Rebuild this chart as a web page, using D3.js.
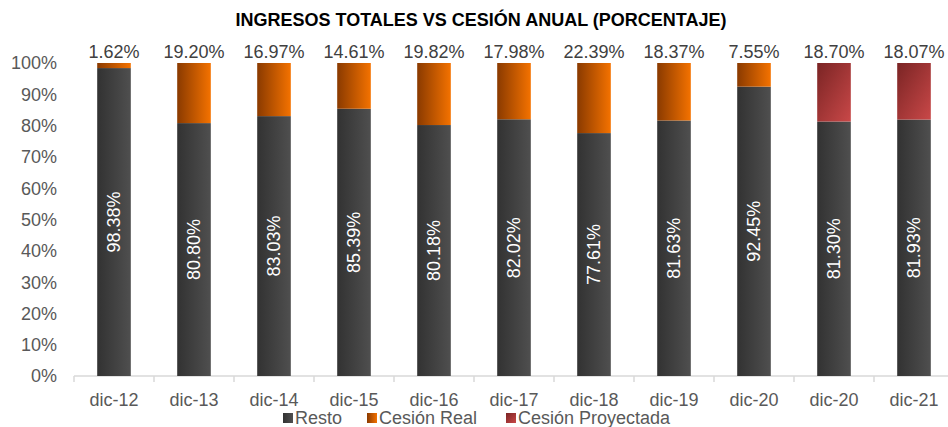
<!DOCTYPE html>
<html>
<head>
<meta charset="utf-8">
<script src="https://cdn.jsdelivr.net/npm/d3@7"></script>
<style>
  body { margin: 0; background: #fff; }
  svg { font-family: "Liberation Sans", Arial, sans-serif; }
</style>
</head>
<body>
<div id="chart"></div>
<script>
// chart data
var categories = ["dic-12", "dic-13", "dic-14", "dic-15", "dic-16", "dic-17", "dic-18", "dic-19", "dic-20", "dic-20 ", "dic-21"];
var resto = [98.38, 80.80, 83.03, 85.39, 80.18, 82.02, 77.61, 81.63, 92.45, 81.30, 81.93];
var cesion = [1.62, 19.20, 16.97, 14.61, 19.82, 17.98, 22.39, 18.37, 7.55, 18.70, 18.07];
var projected = [false, false, false, false, false, false, false, false, false, true, true];
var yTicks = [0, 10, 20, 30, 40, 50, 60, 70, 80, 90, 100];
var legendItems = ["Resto", "Cesión Real", "Cesión Proyectada"];

var width = 948, height = 427;
var margin = { top: 63, right: -6, bottom: 51, left: 74 };

var svg = d3.select("#chart").append("svg")
    .attr("width", width)
    .attr("height", height);

// gradients
var defs = svg.append("defs");
function grad(id, c1, c2, x2, y2) {
    var g = defs.append("linearGradient").attr("id", id)
        .attr("x1", "0%").attr("y1", "0%").attr("x2", x2).attr("y2", y2);
    g.append("stop").attr("offset", "0%").attr("stop-color", c1);
    g.append("stop").attr("offset", "100%").attr("stop-color", c2);
}
grad("gResto", "#323232", "#4f4f4f", "100%", "0%");
grad("gReal", "#8a3a00", "#f47200", "100%", "0%");
grad("gProy", "#7a2424", "#c94848", "100%", "100%");

var x = d3.scaleBand()
    .domain(categories)
    .range([margin.left, width - margin.right])
    .paddingInner(0.58)
    .paddingOuter(0.29);

var y = d3.scaleLinear()
    .domain([0, 100])
    .range([height - margin.bottom, margin.top]);

// title
svg.append("text")
    .attr("x", 481).attr("y", 26)
    .attr("text-anchor", "middle")
    .style("font-size", "18px").style("font-weight", "bold")
    .attr("fill", "#000")
    .text("INGRESOS TOTALES VS CESIÓN ANUAL (PORCENTAJE)");

// y axis labels
svg.selectAll(".ylab")
    .data(yTicks)
    .enter().append("text")
    .attr("class", "ylab")
    .attr("x", 57)
    .attr("y", function (d) { return y(d); })
    .attr("dy", "0.36em")
    .attr("text-anchor", "end")
    .style("font-size", "18px")
    .attr("fill", "#595959")
    .text(function (d) { return d + "%"; });

// x axis
var xAxis = svg.append("g")
    .attr("transform", "translate(0," + y(0) + ")");
xAxis.append("line")
    .attr("x1", margin.left).attr("x2", width)
    .attr("stroke", "#d9d9d9").attr("stroke-width", 1.5);
var step = x.step();
xAxis.selectAll(".tick")
    .data(d3.range(categories.length + 1))
    .enter().append("line")
    .attr("x1", function (i) { return margin.left + i * step; })
    .attr("x2", function (i) { return margin.left + i * step; })
    .attr("y1", 0).attr("y2", 6)
    .attr("stroke", "#d9d9d9").attr("stroke-width", 1.5);
xAxis.selectAll(".xlab")
    .data(categories)
    .enter().append("text")
    .attr("x", function (d) { return x(d) + x.bandwidth() / 2; })
    .attr("y", 30)
    .attr("text-anchor", "middle")
    .style("font-size", "18px")
    .attr("fill", "#595959")
    .text(function (d) { return d.trim(); });

var rows = categories.map(function (c, i) {
    return { cat: c, resto: resto[i], cesion: cesion[i], proj: projected[i] };
});

// resto bars
svg.selectAll(".resto")
    .data(rows)
    .enter().append("rect")
    .attr("x", function (d) { return x(d.cat); })
    .attr("width", x.bandwidth())
    .attr("y", function (d) { return y(d.resto); })
    .attr("height", function (d) { return y(0) - y(d.resto); })
    .attr("fill", "url(#gResto)");

// cesion bars
svg.selectAll(".cesion")
    .data(rows)
    .enter().append("rect")
    .attr("x", function (d) { return x(d.cat); })
    .attr("width", x.bandwidth())
    .attr("y", function (d) { return y(d.resto + d.cesion); })
    .attr("height", function (d) { return y(d.resto) - y(d.resto + d.cesion); })
    .attr("fill", function (d) { return d.proj ? "url(#gProy)" : "url(#gReal)"; });

// top labels
svg.selectAll(".toplab")
    .data(rows)
    .enter().append("text")
    .attr("x", function (d) { return x(d.cat) + x.bandwidth() / 2; })
    .attr("y", y(100) - 5)
    .attr("text-anchor", "middle")
    .style("font-size", "18px")
    .attr("fill", "#404040")
    .text(function (d) { return d.cesion.toFixed(2) + "%"; });

// inner labels
svg.selectAll(".inlab")
    .data(rows)
    .enter().append("text")
    .attr("transform", function (d) {
        var cx = x(d.cat) + x.bandwidth() / 2;
        var cy = (y(0) + y(d.resto)) / 2;
        return "translate(" + cx + "," + cy + ") rotate(-90)";
    })
    .attr("dy", "0.36em")
    .attr("text-anchor", "middle")
    .style("font-size", "18px")
    .attr("fill", "#fff")
    .text(function (d) { return d.resto.toFixed(2) + "%"; });

// legend
var legendFills = ["url(#gResto)", "url(#gReal)", "url(#gProy)"];
var legendX = [283, 367, 506];
var legend = svg.selectAll(".leg")
    .data(legendItems)
    .enter().append("g")
    .attr("transform", function (d, i) { return "translate(" + legendX[i] + ",413)"; });
legend.append("rect")
    .attr("width", 10).attr("height", 10)
    .attr("fill", function (d, i) { return legendFills[i]; });
legend.append("text")
    .attr("x", 12).attr("y", 5)
    .attr("dy", "0.36em")
    .style("font-size", "18px")
    .attr("fill", "#595959")
    .text(function (d) { return d; });
</script>
</body>
</html>
